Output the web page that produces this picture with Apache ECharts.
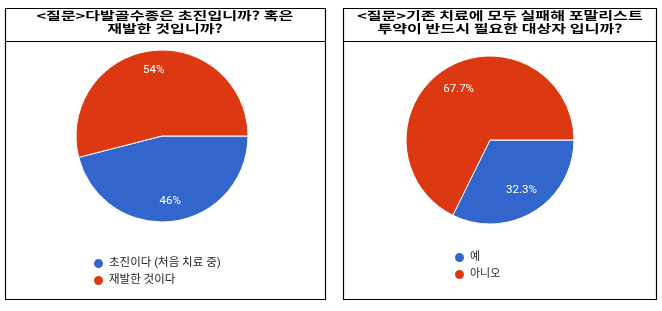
<!DOCTYPE html>
<html>
<head>
<meta charset="utf-8">
<script src="https://cdn.jsdelivr.net/npm/echarts@6/dist/echarts.min.js"></script>
<style>
  html, body { margin: 0; padding: 0; background: #fff; }
  #main { width: 662px; height: 311px; }
</style>
</head>
<body>
<div id="main"></div>
<script>
// 왼쪽 설문
const leftTitle = '<질문>다발골수종은 초진입니까? 혹은\n재발한 것입니까?';
const leftNames = ['초진이다 (처음 치료 중)', '재발한 것이다'];
const leftValues = [46, 54];

// 오른쪽 설문
const rightTitle = '<질문>기존 치료에 모두 실패해 포말리스트\n투약이 반드시 필요한 대상자 입니까?';
const rightNames = ['예', '아니오'];
const rightValues = [32.3, 67.7];

const colors = ['#3366cc', '#dc3912'];
const fontKr = "Roboto, 'Noto Sans CJK KR', sans-serif";

function toData(names, values) {
  return names.map((n, i) => ({ name: n, value: values[i] }));
}

function pieSeries(names, values, center, r) {
  return {
    type: 'pie',
    center: center,
    radius: [0, r],
    startAngle: 0,
    clockwise: true,
    avoidLabelOverlap: false,
    label: { show: false },
    labelLine: { show: false },
    emphasis: { disabled: true },
    itemStyle: { borderColor: '#fff', borderWidth: 1 },
    data: toData(names, values)
  };
}

// 라벨만 그리는 투명 파이 (라벨 위치를 바깥쪽으로)
function labelSeries(names, values, center, r0, r, digits) {
  return {
    type: 'pie',
    center: center,
    radius: [r0, r],
    startAngle: 0,
    clockwise: true,
    silent: true,
    avoidLabelOverlap: false,
    emphasis: { disabled: true },
    itemStyle: { color: 'rgba(0,0,0,0)' },
    label: {
      show: true,
      position: 'inside',
      color: '#fff',
      fontSize: 11.5,
      fontFamily: 'Roboto, Arial, sans-serif',
      formatter: p => p.value.toFixed(digits) + '%'
    },
    labelLine: { show: false },
    data: toData(names, values)
  };
}

function legend(names, left, top, size) {
  return {
    data: names,
    orient: 'vertical',
    left: left,
    top: top,
    padding: 0,
    icon: 'circle',
    itemWidth: 11,
    itemHeight: 11,
    itemGap: 4,
    selectedMode: false,
    textStyle: { color: '#222', fontSize: size, fontFamily: fontKr }
  };
}

function box(x1, x2) {
  return [
    {
      type: 'rect',
      shape: { x: x1 + 0.5, y: 8.5, width: x2 - x1, height: 291 },
      style: { fill: null, stroke: '#000', lineWidth: 1.2 }
    },
    {
      type: 'line',
      shape: { x1: x1 + 0.5, y1: 41.5, x2: x2 + 0.5, y2: 41.5 },
      style: { stroke: '#000', lineWidth: 1.2 }
    }
  ];
}

function title(text, x) {
  return {
    type: 'text',
    x: x,
    y: 22,
    scaleX: 1.15,
    scaleY: 0.85,
    style: {
      text: text,
      align: 'center',
      verticalAlign: 'middle',
      fill: '#000',
      fontSize: 14,
      lineHeight: 15,
      fontWeight: 'bold',
      fontFamily: "'Noto Sans CJK KR', sans-serif"
    }
  };
}

const option = {
  animation: false,
  color: colors,
  legend: [
    legend(leftNames, 92, 257, 11.5),
    legend(rightNames, 453, 251, 11)
  ],
  graphic: [
    ...box(5, 325),
    ...box(343, 656),
    title(leftTitle, 165),
    title(rightTitle, 500)
  ],
  series: [
    pieSeries(leftNames, leftValues, [162, 136], 86),
    pieSeries(rightNames, rightValues, [490, 140], 84),
    labelSeries(leftNames, leftValues, [162, 136], 40, 86, 0),
    labelSeries(rightNames, rightValues, [490, 140], 29, 84, 1)
  ]
};

const myChart = echarts.init(document.getElementById('main'), null, { renderer: 'canvas' });
myChart.setOption(option);
</script>
</body>
</html>
